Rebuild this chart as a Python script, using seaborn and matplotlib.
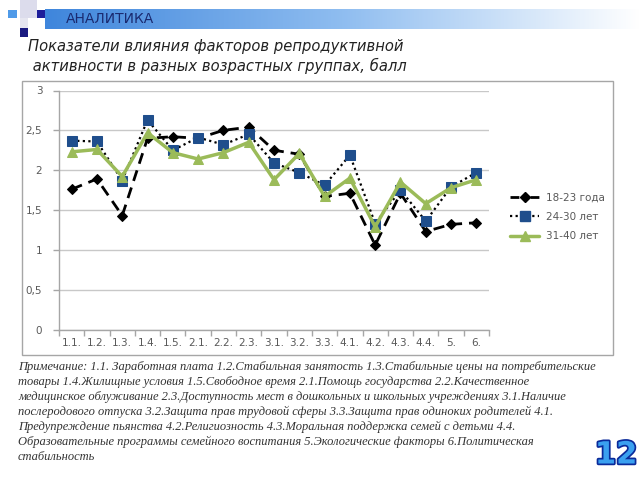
import numpy as np
import pandas as pd
import matplotlib
matplotlib.use("Agg")
import matplotlib.pyplot as plt
import matplotlib.patches as mpatches
import matplotlib.patheffects as pe
from matplotlib.lines import Line2D
from matplotlib.colors import LinearSegmentedColormap
import seaborn as sns

# ---------------- data ----------------
factors = ["1.1.", "1.2.", "1.3.", "1.4.", "1.5.", "2.1.", "2.2.", "2.3.", "3.1.",
           "3.2.", "3.3.", "4.1.", "4.2.", "4.3.", "4.4.", "5.", "6."]
age_18_23 = [1.76, 1.89, 1.43, 2.40, 2.42, 2.40, 2.50, 2.54, 2.25, 2.20, 1.67, 1.71,
             1.06, 1.71, 1.23, 1.32, 1.34]
age_24_30 = [2.37, 2.36, 1.87, 2.63, 2.25, 2.41, 2.32, 2.45, 2.09, 1.97, 1.81, 2.19,
             1.33, 1.75, 1.36, 1.79, 1.97]
age_31_40 = [2.23, 2.26, 1.92, 2.47, 2.22, 2.14, 2.22, 2.35, 1.88, 2.21, 1.67, 1.90,
             1.29, 1.85, 1.58, 1.78, 1.88]
series_names = ["18-23 года", "24-30 лет", "31-40 лет"]
y_ticks = [0, 0.5, 1, 1.5, 2, 2.5, 3]
y_tick_labels = ["0", "0,5", "1", "1,5", "2", "2,5", "3"]

header_text = "АНАЛИТИКА"
title_lines = ["Показатели влияния факторов репродуктивной",
               " активности в разных возрастных группах, балл"]
note_lines = [
    "Примечание: 1.1. Заработная плата 1.2.Стабильная занятость 1.3.Стабильные цены на потребительские",
    "товары 1.4.Жилищные условия 1.5.Свободное время 2.1.Помощь государства 2.2.Качественное",
    "медицинское облуживание 2.3.Доступность мест в дошкольных и школьных учреждениях 3.1.Наличие",
    "послеродового отпуска 3.2.Защита прав трудовой сферы 3.3.Защита прав одиноких родителей 4.1.",
    "Предупреждение пьянства 4.2.Религиозность 4.3.Моральная поддержка семей с детьми 4.4.",
    "Образовательные программы семейного воспитания 5.Экологические факторы 6.Политическая",
    "стабильность",
]
page_number = "12"

df = pd.DataFrame({
    "factor": factors * 3,
    "score": age_18_23 + age_24_30 + age_31_40,
    "group": [series_names[0]] * len(factors) + [series_names[1]] * len(factors)
             + [series_names[2]] * len(factors),
})

# ---------------- figure ----------------
sns.set_theme(style="white")
plt.rcParams["font.family"] = ["DejaVu Sans"]
W, H = 640, 480
fig = plt.figure(figsize=(6.4, 4.8), dpi=100)
fig.patch.set_facecolor("white")


def fx(px):
    return px / W


def fy(py):
    return 1 - py / H


# header gradient bar
gax = fig.add_axes([fx(45), fy(29), fx(640 - 45), (29 - 9) / H])
cmap = LinearSegmentedColormap.from_list("hdr", ["#3f86dc", "#8fbdf0", "#ffffff"])
gax.imshow(np.linspace(0, 1, 256)[None, :], aspect="auto", cmap=cmap,
           extent=[0, 1, 0, 1])
gax.set_axis_off()

# header decorative squares
for (x0, y0, w, h, c) in [
    (20, 0, 17, 18, "#dcdcec"),
    (20, 18, 8, 10, "#e6e6f0"),
    (8, 10, 9, 8, "#4f9ae8"),
    (37, 10, 8, 8, "#1d1d9a"),
    (20, 28, 8, 9, "#1a1a80"),
]:
    fig.patches.append(mpatches.Rectangle((fx(x0), fy(y0 + h)), w / W, h / H,
                                          transform=fig.transFigure,
                                          facecolor=c, edgecolor="none"))

fig.text(fx(66), fy(19), header_text, fontsize=10, color="#1a2a70",
         va="center", ha="left", family="DejaVu Sans")

# title
fig.text(fx(28), fy(47), title_lines[0], fontsize=10.6, style="italic",
         color="#222222", va="center", ha="left", family="DejaVu Sans")
fig.text(fx(28), fy(66), title_lines[1], fontsize=10.6, style="italic",
         color="#222222", va="center", ha="left", family="DejaVu Sans")

# chart frame
fig.patches.append(mpatches.Rectangle((fx(22), fy(355)), (613 - 22) / W, (355 - 81) / H,
                                      transform=fig.transFigure, facecolor="none",
                                      edgecolor="#a6a6a6", linewidth=1.0, zorder=-1))

# ---------------- chart ----------------
ax = fig.add_axes([fx(59), fy(329.5), fx(489 - 59), (329.5 - 90.5) / H])
ax.set_facecolor("none")

styles = {
    series_names[0]: dict(color="black", dashes=(4, 2.5), linewidth=2.0,
                          marker="D", markersize=5.5, markerfacecolor="black",
                          markeredgecolor="black"),
    series_names[1]: dict(color="black", dashes=(1, 1.5), linewidth=1.6,
                          marker="s", markersize=7.5, markerfacecolor="#1f4e8c",
                          markeredgecolor="#1f4e8c"),
    series_names[2]: dict(color="#9bbb59", linestyle="-", linewidth=2.5,
                          marker="^", markersize=7, markerfacecolor="#9bbb59",
                          markeredgecolor="#9bbb59"),
}
legend_dashes = {series_names[0]: (3.2, 4.0), series_names[1]: (1, 1.5),
                 series_names[2]: None}
handles = []
for name in series_names:
    sub = df[df["group"] == name]
    st = styles[name]
    sns.lineplot(data=sub, x="factor", y="score", ax=ax, sort=False,
                 estimator=None, legend=False, zorder=3, **st)
    hst = dict(st)
    if legend_dashes[name] is not None:
        hst["dashes"] = legend_dashes[name]
    handles.append(Line2D([], [], **hst))

ax.set_ylim(0, 3)
ax.set_xlim(-0.5, len(factors) - 0.5)
ax.set_yticks(y_ticks)
ax.set_yticklabels(y_tick_labels)
ax.set_xticks(range(len(factors)))
ax.set_xticklabels(factors)
ax.set_xticks(np.arange(-0.5, len(factors), 1.0), minor=True)
ax.set_xlabel("")
ax.set_ylabel("")
ax.grid(axis="y", color="#c8c8c8", linewidth=1.0)
ax.grid(axis="x", visible=False)
for s in ["top", "right"]:
    ax.spines[s].set_visible(False)
for s in ["left", "bottom"]:
    ax.spines[s].set_visible(True)
    ax.spines[s].set_color("#a6a6a6")
    ax.spines[s].set_linewidth(1.0)
ax.tick_params(axis="y", which="major", length=4, color="#a6a6a6", width=1,
               labelsize=7.5, labelcolor="#595959", pad=8, left=True)
ax.tick_params(axis="x", which="major", length=0, labelsize=7.5,
               labelcolor="#595959", pad=6)
ax.tick_params(axis="x", which="minor", length=4, color="#a6a6a6", width=1,
               bottom=True)

leg = fig.legend(handles=handles, labels=series_names, loc="center left",
                 bbox_to_anchor=(fx(506), fy(217)), frameon=False, fontsize=7.5,
                 handlelength=2.8, labelspacing=0.9, handletextpad=0.6,
                 borderaxespad=0)
for t in leg.get_texts():
    t.set_color("#595959")

# ---------------- note ----------------
for i, line in enumerate(note_lines):
    fig.text(fx(18), fy(367 + i * 15), line, fontsize=9.0, style="italic",
             color="#333333", va="center", ha="left", family="Liberation Serif")

fig.text(fx(616), fy(455), page_number, fontsize=22, fontweight="heavy",
         color="#3aa0f0", ha="center", va="center", family="DejaVu Sans",
         path_effects=[pe.withStroke(linewidth=2.5, foreground="#0a2a9a")])

fig.savefig("out.png", dpi=100)
